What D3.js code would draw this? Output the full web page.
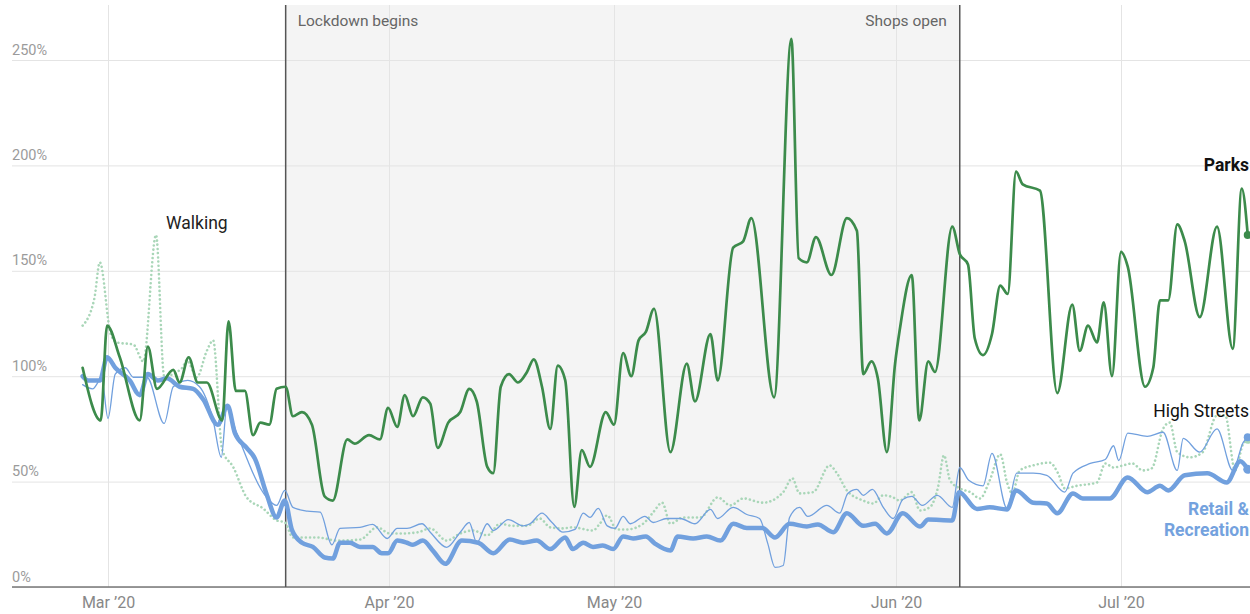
<!DOCTYPE html>
<meta charset="utf-8">
<style>
    body { margin: 0; background: #fff; }
    svg { display: block; font-family: Roboto, "Noto Sans", sans-serif; }
    .ytick text { fill: #9b9b9b; font-size: 14.5px; }
    .xtick text { fill: #888; font-size: 16px; }
    .event-label { fill: #666; font-size: 15.5px; }
    .note { font-size: 17.5px; }
</style>

<body>
    <svg width="1250" height="614"></svg>
    <script src="https://d3js.org/d3.v7.min.js"></script>
    <script>
        // x values are days counted from 1 March 2020
        const monthDays = [0, 31, 61, 92, 122];
        const monthLabels = ["Mar ’20", "Apr ’20", "May ’20", "Jun ’20", "Jul ’20"];
        const yTicks = [0, 50, 100, 150, 200, 250];
        const eventDays = [19.6, 100.5];
        const eventLabels = ["Lockdown begins", "Shops open"];

        const parksDay = [-2.8, -0.8, -0.1, 1.3, 3.5, 4.4, 5.4, 7.2, 7.9, 8.9, 9.9, 10.9, 12.6, 13.3, 14.1, 15.1, 16.0, 16.8, 17.8, 18.6,
            19.6, 20.4, 21.4, 22.5, 23.9, 24.8, 26.4, 27.2, 28.8, 30.0, 30.9, 32.1, 33.1, 34.2, 35.5, 36.5, 37.5, 38.9, 40.5, 41.7,
            42.7, 44.1, 44.9, 45.9, 47.0, 48.2, 49.4, 50.3, 51.4, 52.5, 53.5, 54.5, 55.7, 56.7, 57.8, 59.9, 61.0, 62.0, 62.9, 63.7,
            64.5, 65.4, 67.2, 69.0, 69.9, 71.6, 72.4, 74.1, 75.2, 76.1, 78.6, 80.5, 81.3, 82.2, 83.2, 84.9, 86.6, 87.7, 88.4, 89.3,
            90.0, 91.0, 91.9, 92.5, 94.1, 95.1, 96.3, 97.2, 99.5, 100.5, 101.6, 102.5, 103.6, 104.8, 105.9, 106.9, 108.0, 108.9, 111.2, 113.5,
            115.5, 116.5, 117.6, 118.8, 119.7, 120.8, 122.0, 122.9, 125.2, 126.3, 127.2, 128.3, 129.5, 130.5, 132.5, 134.8, 136.9, 138.1, 138.9];
        const parksValue = [104, 79, 124, 109, 79, 114, 94, 103, 97, 109, 97, 97, 79, 126, 93, 93, 72, 78, 77, 94,
            95, 81, 83, 77, 43, 41, 70, 68, 72, 70, 85, 76, 91, 81, 90, 87, 66, 78, 83, 94,
            88, 57, 54, 95, 101, 97, 102, 108, 95, 75, 105, 98, 38, 65, 57, 83, 77, 111, 100, 117,
            121, 132, 64, 106, 88, 120, 98, 161, 164, 175, 90, 260, 156, 154, 166, 148, 175, 169, 101, 107,
            99, 64, 106, 122, 148, 79, 107, 102, 171, 158, 153, 118, 110, 120, 143, 139, 197, 191, 188, 92,
            134, 112, 124, 116, 135, 100, 159, 152, 95, 104, 136, 136, 172, 164, 128, 171, 113, 189, 167];

        const retailDay = [-2.8, -2.2, -0.9, -0.1, 0.8, 2.4, 3.5, 4.4, 5.5, 6.5, 7.9, 9.4, 10.5, 12.1, 13.2, 14.0, 15.3, 16.2, 17.5, 18.6,
            19.5, 20.3, 21.4, 22.6, 23.9, 24.8, 25.6, 26.7, 27.8, 29.2, 30.2, 30.9, 32.1, 33.4, 34.2, 35.5, 36.9, 38.5, 40.7, 42.9,
            44.9, 47.1, 48.9, 50.7, 52.5, 54.5, 55.5, 56.9, 58.2, 59.5, 60.9, 62.0, 63.1, 64.5, 65.5, 67.2, 68.0, 69.7, 71.2, 72.7,
            74.1, 75.6, 77.3, 78.7, 80.3, 82.2, 83.4, 85.1, 86.6, 88.4, 89.7, 91.0, 92.9, 95.2, 96.3, 99.5, 100.4, 102.8, 104.5, 106.8,
            108.0, 110.3, 112.1, 113.5, 115.6, 116.9, 120.5, 122.9, 125.5, 127.2, 128.3, 130.5, 133.5, 136.1, 137.9, 138.9];
        const retailValue = [100, 98, 98, 109, 104, 98, 91, 101, 98, 99, 95, 94, 89, 77, 86, 73, 66, 61, 44, 33,
            41, 27, 21, 19, 14, 13.5, 21, 21, 19, 19, 16, 16, 22, 21, 20, 22, 17, 11, 22, 21,
            16, 22.5, 21, 22, 18, 23.5, 18, 21, 19, 19.7, 18, 24, 23, 24, 20.6, 17.3, 24, 23, 24, 22,
            30, 28, 28, 23.5, 30, 28.7, 29.7, 26, 35, 29, 30, 25.4, 35, 28.7, 32, 31.6, 45, 37, 37.8, 36.8,
            45.8, 40, 39.6, 35, 44.4, 42, 42, 52, 45, 48, 45.8, 53, 54, 49.6, 59.6, 55.8];

        const highDay = [-2.8, -1.7, -0.7, 0.0, 0.8, 1.9, 2.8, 4.3, 6.2, 7.2, 8.8, 10.1, 11.6, 12.5, 13.1, 14.2, 17.5, 18.6, 19.5, 20.4,
            22.0, 23.4, 24.7, 25.6, 27.8, 29.2, 30.8, 32.1, 33.4, 35.4, 36.5, 38.7, 40.5, 41.7, 42.7, 44.1, 44.9, 46.9, 48.9, 49.8,
            51.4, 52.7, 54.2, 55.8, 56.9, 57.8, 58.9, 60.1, 61.1, 62.0, 62.8, 64.4, 65.3, 66.8, 68.3, 69.9, 71.6, 72.4, 74.1, 75.6,
            77.0, 77.9, 78.7, 79.6, 80.3, 81.4, 82.3, 84.4, 85.8, 86.7, 87.7, 88.4, 89.4, 90.6, 91.7, 92.9, 94.1, 95.5, 97.5, 99.5,
            100.5, 101.7, 103.6, 104.8, 106.8, 108.1, 110.3, 112.1, 114.5, 115.6, 117.9, 119.9, 121.0, 121.7, 122.9, 125.5, 127.6, 129.5, 130.3, 132.5,
            134.8, 136.9, 138.3, 138.9];
        const highValue = [96, 94, 99, 80, 101, 104, 99.5, 99.5, 77.6, 95, 98, 95, 79, 61.5, 85, 73, 42.5, 38.7, 45.8, 37.8,
            36, 35.5, 20, 27.8, 28.3, 29.7, 23, 27.8, 27.8, 30, 26, 18.8, 26, 30.6, 21, 30, 26.8, 32, 29, 30,
            35, 30.7, 26, 27.3, 35, 33, 37.3, 29, 27.8, 33.5, 30, 33.5, 30.6, 32.5, 32.5, 30, 36.8, 32.5, 37.8, 34.4,
            32.5, 20.7, 9.3, 10.2, 33, 37.8, 33.5, 38.7, 35, 44.4, 46.3, 43.5, 46.3, 37.8, 32.5, 41.5, 43, 38.7, 43.5, 37.8,
            56.7, 50.6, 48, 63.4, 37.3, 54, 54, 53, 45, 54, 58.6, 60.5, 67, 60, 73, 71.5, 73.4, 55.3, 70.5, 64,
            75, 55.3, 68.6, 71];

        const walkDay = [-2.8, -1.5, -0.9, 0.3, 1.0, 2.8, 3.9, 5.3, 6.2, 8.2, 8.7, 9.8, 10.9, 11.6, 12.6, 13.8, 15.3, 17.1, 18.6, 19.5,
            20.4, 23.1, 25.3, 27.8, 29.7, 31.1, 32.9, 34.9, 36.5, 38.7, 40.5, 42.2, 44.1, 45.8, 47.5, 49.4, 51.1, 52.5, 54.1, 55.5,
            58.2, 59.1, 60.1, 61.3, 62.4, 64.2, 65.3, 66.3, 67.2, 68.6, 70.5, 72.4, 73.8, 75.2, 77.4, 79.6, 80.6, 81.4, 82.9, 84.7,
            85.5, 86.6, 88.4, 89.5, 90.6, 91.7, 92.5, 94.1, 95.2, 96.5, 97.6, 98.4, 99.2, 100.5, 101.9, 103.2, 104.5, 105.9, 106.8, 107.5,
            108.5, 110.3, 112.5, 113.6, 114.5, 116.1, 118.8, 119.9, 121.0, 122.3, 123.5, 124.9, 126.1, 127.6, 128.5, 129.5, 131.2, 132.9, 134.8, 135.9,
            137.2, 138.3, 138.9];
        const walkValue = [124, 137, 154, 120, 116, 115, 107, 167, 100, 104, 107.6, 99.5, 112, 117, 65, 57, 42.5, 37.3, 31.6, 30.7,
            23.5, 23.5, 22, 22.5, 28.3, 25.4, 25.4, 26, 27.8, 22, 25.4, 26.8, 24.5, 30, 29, 29, 32.5, 28.3, 27.8, 28.3,
            26.8, 30, 34, 27.3, 27.3, 30, 35.4, 40, 30, 33, 33, 42.5, 38.7, 42, 40, 45, 51.6, 44.4, 45, 57.7,
            54, 45.8, 41, 39.6, 43.5, 42.5, 41, 45, 36.3, 37.8, 47.3, 62.5, 50.6, 46.8, 45, 42, 50.6, 63, 49.6, 44.4,
            55.3, 57.7, 59, 54, 46.8, 48, 49.6, 58.6, 56.7, 57.7, 58.6, 55.3, 56.3, 75, 78, 64, 61.5, 64, 81.4, 81.4,
            55.3, 68, 69.6];

        var svg = d3.select("svg"),
            width = +svg.attr("width"),
            plotLeft = 12,
            plotTop = 5,
            plotBottom = 587;

        // month gridlines are not evenly spaced in the original, so the scale is piecewise
        var x = d3.scaleLinear().domain(monthDays).range([108, 389, 614, 896, 1121]);
        var y = d3.scaleLinear().domain([0, 250]).range([plotBottom, 60]);

        var line = d3.line()
            .x(function (d) { return x(d[0]); })
            .y(function (d) { return y(d[1]); })
            .curve(d3.curveMonotoneX);

        // shaded lockdown period
        svg.append("rect")
            .attr("x", x(eventDays[0]))
            .attr("y", plotTop)
            .attr("width", x(eventDays[1]) - x(eventDays[0]))
            .attr("height", plotBottom - plotTop)
            .attr("fill", "#f4f4f4");

        // y gridlines + labels
        svg.append("g")
            .attr("class", "ytick")
            .attr("transform", "translate(" + plotLeft + ",0)")
            .call(d3.axisRight(y).tickValues(yTicks).tickSize(width - plotLeft).tickFormat(function (d) { return d + "%"; }))
            .attr("font-size", null).attr("font-family", null)
            .call(function (g) { g.select(".domain").remove(); })
            .call(function (g) { g.selectAll(".tick line").attr("stroke", "#e4e4e4"); })
            .call(function (g) {
                g.selectAll(".tick text").attr("x", 0).attr("dy", -6).attr("text-anchor", "start");
            });

        // x gridlines + month labels
        svg.append("g")
            .attr("class", "xtick")
            .attr("transform", "translate(0," + plotBottom + ")")
            .call(d3.axisBottom(x).tickValues(monthDays).tickSize(-(plotBottom - plotTop))
                .tickFormat(function (d, i) { return monthLabels[i]; }))
            .attr("font-size", null).attr("font-family", null)
            .call(function (g) { g.select(".domain").remove(); })
            .call(function (g) { g.selectAll(".tick line").attr("stroke", "#e4e4e4"); })
            .call(function (g) { g.selectAll(".tick text").attr("y", 21).attr("dy", null); });

        // baseline
        svg.append("line")
            .attr("x1", plotLeft).attr("x2", width)
            .attr("y1", y(0)).attr("y2", y(0))
            .attr("stroke", "#777").attr("stroke-width", 1.5);

        // event markers
        eventDays.forEach(function (d, i) {
            svg.append("line")
                .attr("x1", x(d)).attr("x2", x(d))
                .attr("y1", plotTop).attr("y2", plotBottom)
                .attr("stroke", "#555").attr("stroke-width", 1.5);
            svg.append("text")
                .attr("class", "event-label")
                .attr("x", i == 0 ? x(d) + 12 : x(d) - 13)
                .attr("y", plotTop + 21)
                .attr("text-anchor", i == 0 ? "start" : "end")
                .text(eventLabels[i]);
        });

        var series = [
            { days: walkDay, values: walkValue, color: "#a9d6b8", width: 2.6, dash: "0.01 4.2", dot: 3.5 },
            { days: retailDay, values: retailValue, color: "#71a0de", width: 4.5, dash: null, dot: 4.5 },
            { days: highDay, values: highValue, color: "#71a0de", width: 1.3, dash: null, dot: 4 },
            { days: parksDay, values: parksValue, color: "#3c8b4b", width: 2.7, dash: null, dot: 4 }
        ];

        series.forEach(function (s) {
            var data = d3.zip(s.days, s.values);
            svg.append("path")
                .datum(data)
                .attr("fill", "none")
                .attr("stroke", s.color)
                .attr("stroke-width", s.width)
                .attr("stroke-linecap", "round")
                .attr("stroke-linejoin", "round")
                .attr("stroke-dasharray", s.dash)
                .attr("d", line);
            var last = data[data.length - 1];
            svg.append("circle")
                .attr("cx", x(last[0]))
                .attr("cy", y(last[1]))
                .attr("r", s.dot)
                .attr("fill", s.color);
        });

        // series labels
        var rightEdge = width - 1;
        var notes = [
            { text: "Walking", x: x(6.4), y: y(170), anchor: "start", weight: "normal", color: "#222" },
            { text: "Parks", x: rightEdge, y: y(197.3), anchor: "end", weight: "bold", color: "#111" },
            { text: "High Streets", x: rightEdge, y: y(80.5), anchor: "end", weight: "normal", color: "#111" },
            { text: "Retail &", x: rightEdge, y: y(34), anchor: "end", weight: "bold", color: "#74a2de" },
            { text: "Recreation", x: rightEdge, y: y(24), anchor: "end", weight: "bold", color: "#74a2de" }
        ];
        svg.selectAll(".note")
            .data(notes)
            .enter().append("text")
            .attr("class", "note")
            .attr("x", function (d) { return d.x; })
            .attr("y", function (d) { return d.y; })
            .attr("text-anchor", function (d) { return d.anchor; })
            .attr("font-weight", function (d) { return d.weight; })
            .attr("fill", function (d) { return d.color; })
            .text(function (d) { return d.text; });
    </script>
</body>
